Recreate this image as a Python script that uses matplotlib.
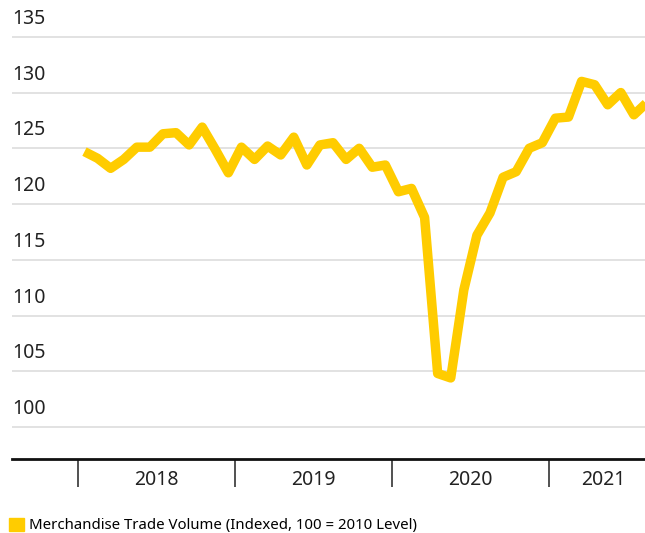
import matplotlib
matplotlib.use("Agg")
import matplotlib.pyplot as plt
from matplotlib.patches import Patch

plt.rcParams['font.family'] = ['Noto Sans', 'DejaVu Sans']

# monthly index values, Jan 2018 .. Aug 2021
values_2018 = [124.7, 124.1, 123.2, 124.0, 125.1, 125.1, 126.3, 126.4, 125.3, 126.9, 124.9, 122.8]
values_2019 = [125.1, 124.0, 125.2, 124.4, 126.0, 123.5, 125.3, 125.5, 124.0, 125.0, 123.3, 123.5]
values_2020 = [121.1, 121.4, 118.8, 104.8, 104.4, 112.3, 117.2, 119.2, 122.4, 122.9, 125.0, 125.5]
values_2021 = [127.7, 127.8, 131.0, 130.7, 128.9, 130.0, 128.0, 129.1]

years = ["2018", "2019", "2020", "2021"]
y_ticks = [100, 105, 110, 115, 120, 125, 130, 135]
series_label = "Merchandise Trade Volume (Indexed, 100 = 2010 Level)"

values = values_2018 + values_2019 + values_2020 + values_2021
months = list(range(len(values)))

yellow = "#FFCC00"

fig = plt.figure(figsize=(6.45, 5.33), dpi=100)
ax = fig.add_axes([12 / 645, 74 / 533, 633 / 645, 459 / 533])

for v in y_ticks:
    ax.axhline(v, color="#dddddd", lw=1.2, zorder=1)
    ax.annotate(str(v), xy=(0, v), xycoords=("axes fraction", "data"),
                xytext=(0, 8), textcoords="offset pixels",
                ha="left", va="bottom", fontsize=14, color="#222222")

ax.plot(months, values, color=yellow, lw=6.8, solid_joinstyle="round",
        solid_capstyle="butt", zorder=3)

ax.set_xlim(-5.54, 42.85)
ax.set_ylim(97.13, 138.3)

for s in ["top", "right", "left"]:
    ax.spines[s].set_visible(False)
ax.spines["bottom"].set_linewidth(2)
ax.spines["bottom"].set_color("#111111")

ax.set_yticks([])
ax.set_xticks([5.5, 17.5, 29.5, 39.7])
ax.set_xticklabels(years, fontsize=14, color="#222222")
ax.set_xticks([-0.5, 11.5, 23.5, 35.5], minor=True)
ax.tick_params(axis="x", which="major", length=0, pad=8)
ax.tick_params(axis="x", which="minor", length=20, width=1.2, color="#333333")

fig.legend(handles=[Patch(color=yellow)], labels=[series_label],
           loc="lower left", bbox_to_anchor=(0.005, -0.012), frameon=False,
           fontsize=10.75, handlelength=1.0, handleheight=1.0, handletextpad=0.35,
           borderaxespad=0)

fig.savefig("out.png", dpi=100)
